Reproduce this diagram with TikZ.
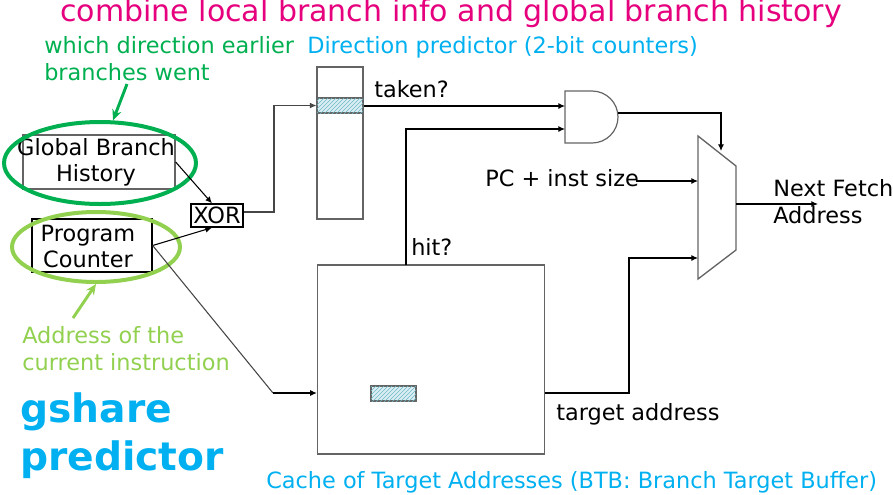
\documentclass[tikz,border=0pt]{standalone}
\usepackage{fontspec}
\setmainfont{DejaVu Sans}
\usetikzlibrary{arrows.meta,shapes.geometric,patterns,calc}
\definecolor{ttl}{RGB}{230,0,126}
\definecolor{dgreen}{RGB}{0,176,80}
\definecolor{lgreen}{RGB}{146,208,80}
\definecolor{lblue}{RGB}{0,176,240}
\definecolor{boxgray}{RGB}{100,100,100}
\definecolor{wiregray}{RGB}{70,70,70}
\definecolor{hatchfill}{RGB}{218,238,243}
\definecolor{hatchline}{RGB}{110,185,200}
\begin{document}
\begin{tikzpicture}[x=0.75pt,y=-0.75pt,
  box/.style={draw=boxgray, line width=1pt, inner sep=0pt, align=center,
    font=\fontsize{16.8}{19.5}\selectfont},
  intext/.style={inner sep=0pt, align=center, font=\fontsize{16.8}{19.5}\selectfont},
  lbl/.style={anchor=base west, inner sep=0pt, font=\fontsize{16.8}{19.5}\selectfont},
  wire/.style={line width=0.8pt, -{Latex[length=5pt,width=4.5pt]}},
  plainwire/.style={line width=0.8pt},
  hatchbox/.style={draw=boxgray, line width=0.8pt, inner sep=0pt, fill=hatchfill,
    postaction={pattern=north east lines, pattern color=hatchline}},
  ring/.style={ellipse, line width=3pt, inner sep=0pt},
  note/.style={line width=2.2pt, -{Stealth[length=8pt,width=7pt]}},
]
\useasboundingbox (0,0) rectangle (893,494);

% title and labels
\node[anchor=base west, inner sep=0pt, text=ttl, font=\fontsize{22.5}{27}\selectfont] (title) at (60,21) {combine local branch info and global branch history};
\node[lbl, text=dgreen] (gw1) at (44,53) {which direction earlier};
\node[lbl, text=dgreen] (gw2) at (44,80) {branches went};
\node[lbl, text=lblue] (dplbl) at (307,53) {Direction predictor (2-bit counters)};
\node[lbl, text=lgreen] (aw1) at (22,343) {Address of the};
\node[lbl, text=lgreen] (aw2) at (22,370) {current instruction};
\node[anchor=base west, inner sep=0pt, text=lblue, font=\fontsize{29.4}{35}\selectfont\bfseries] (gs1) at (20,422) {gshare};
\node[anchor=base west, inner sep=0pt, text=lblue, font=\fontsize{29.4}{35}\selectfont\bfseries] (gs2) at (20,470) {predictor};
\node[lbl, text=lblue] (btblbl) at (266,488) {Cache of Target Addresses (BTB: Branch Target Buffer)};

% boxes
\node[box, minimum width=114pt, minimum height=40.5pt] (gbh) at (99,162) {};
\node[intext] (gbhtext) at (96,162) {Global Branch\\History};
\node[box, draw=black, minimum width=90pt, minimum height=39.75pt] (pc) at (92,245.5) {};
\node[intext] (pctext) at (88,246) {Program\\Counter};
\node[box, draw=black, minimum width=39pt, minimum height=17.25pt] (xor) at (217,215.5) {XOR};
\node[box, minimum width=34.5pt, minimum height=114pt] (dp) at (340,143) {};
\node[hatchbox, minimum width=34.5pt, minimum height=11.25pt] (dprow) at (340,105.5) {};
\node[box, minimum width=170.25pt, minimum height=141.75pt] (btb) at (431,359.5) {};
\node[hatchbox, minimum width=33.75pt, minimum height=11.25pt] (btbrow) at (393.5,393.5) {};

% rings
\node[ring, draw=dgreen, minimum width=144pt, minimum height=61.5pt] (gring) at (100,163) {};
\node[ring, draw=lgreen, minimum width=126pt, minimum height=52.5pt] (pring) at (96,247) {};
\coordinate (gwtail) at (127,84);
\coordinate (awtail) at (73,318);
\draw[note, dgreen] (gwtail) -- (gring.73);
\draw[note, lgreen] (awtail) -- (pring.south);

% AND gate
\coordinate (and1) at (565,106);
\coordinate (and2) at (565,129);
\coordinate (andout) at (618,113);
\draw[boxgray, line width=0.9pt] (565,91) -- (592,91) arc[start angle=90, end angle=-90, radius=19.5pt] -- (565,143) -- cycle;

% mux
\draw[boxgray, line width=1pt] (698,136) -- (736,166) -- (736,250) -- (698,279) -- cycle;
\coordinate (muxsel) at (721,151);
\coordinate (muxa) at (698,181);
\coordinate (muxb) at (698,258);
\coordinate (muxout) at (736,204);
\coordinate (nfa) at (818,204);

% texts on wires
\node[lbl] (taken) at (374,97) {taken?};
\node[lbl] (hit) at (411,255) {hit?};
\node[lbl] (pcinc) at (485,186) {PC + inst size};
\node[lbl] (tgt) at (556,420) {target address};
\node[lbl] (nf1) at (773,196) {Next Fetch};
\node[lbl] (nf2) at (773,223) {Address};

% connectors
\draw[wire] (gbh.east) -- ([xshift=-3.75pt]xor.north);
\draw[wire] (pc.east) -- ([xshift=-3.75pt]xor.south);
\coordinate (xorup) at (274,212);
\draw[wire, wiregray] (xor.east |- xorup) -- (xorup) |- (dprow.west);
\coordinate (pcbend) at (273,393);
\draw[plainwire, wiregray] (pc.east) -- (pcbend);
\draw[wire] (pcbend) -- (pcbend -| btb.west);
\draw[wire] (dprow.east |- and1) -- (and1);
\coordinate (hitx) at (406,265);
\draw[wire] (hitx) |- (and2);
\draw[wire] (andout) -| (muxsel);
\draw[wire] ($(pcinc.base east)+(-3,-5)$) -- (muxa);
\coordinate (tgtbend) at (629,393);
\draw[wire] (btb.east |- tgtbend) -- (tgtbend) |- (muxb);
\draw[wire] (muxout) -- (nfa);
\end{tikzpicture}
\end{document}
